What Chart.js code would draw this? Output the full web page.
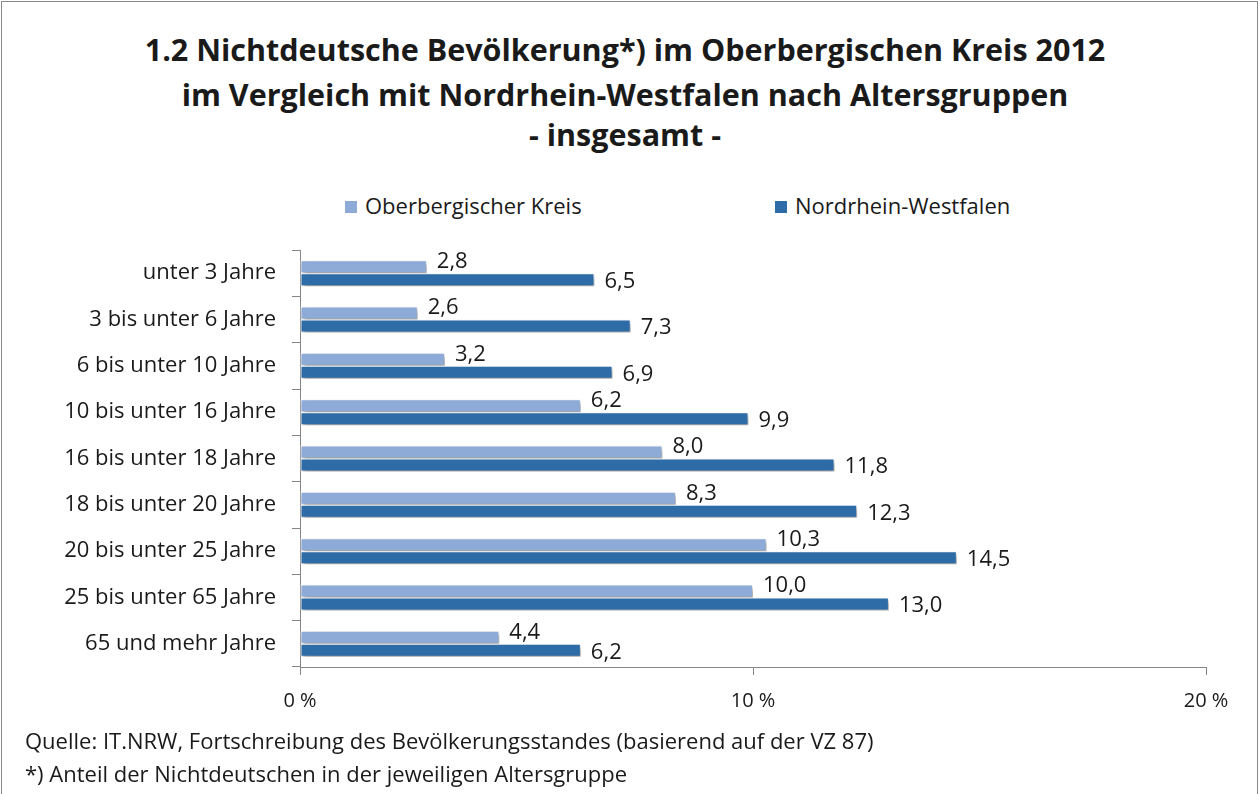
<!DOCTYPE html>
<html lang="de">
<head>
<meta charset="utf-8">
<script src="https://cdn.jsdelivr.net/npm/chart.js@4"></script>
<style>
  html, body { margin: 0; padding: 0; background: #fff; }
  body { width: 1260px; height: 794px; position: relative; overflow: hidden; font-family: "Open Sans", sans-serif; color: #1a1a1a; }
  #frame { position: absolute; left: 1px; top: 1px; width: 1255px; height: 820px; border: 1px solid #8a8a8a; }
  .title { position: absolute; left: 0; width: 1250px; text-align: center; font-weight: bold; font-size: 30.5px; line-height: 34px; }
  .leg { position: absolute; top: 191px; font-size: 22px; line-height: 28px; white-space: nowrap; }
  .leg i { display: inline-block; width: 12px; height: 12px; margin-right: 8px; vertical-align: 1px; }
  .note { position: absolute; left: 25px; font-size: 22px; line-height: 28px; white-space: nowrap; }
  canvas { position: absolute; left: 0; top: 0; }
</style>
</head>
<body>
<div id="frame"></div>
<div class="title" style="top:32px">1.2 Nichtdeutsche Bevölkerung*) im Oberbergischen Kreis 2012</div>
<div class="title" style="top:77px">im Vergleich mit Nordrhein-Westfalen nach Altersgruppen</div>
<div class="title" style="top:117px">- insgesamt -</div>

<div class="leg" style="left:345px"><i style="background:#8eaad6"></i>Oberbergischer Kreis</div>
<div class="leg" style="left:775px"><i style="background:#2e6ca8"></i>Nordrhein-Westfalen</div>

<canvas id="chart" width="1260" height="794"></canvas>

<div class="note" style="top:726px">Quelle: IT.NRW, Fortschreibung des Bevölkerungsstandes (basierend auf der VZ 87)</div>
<div class="note" style="top:759px">*) Anteil der Nichtdeutschen in der jeweiligen Altersgruppe</div>

<script>
// Altersgruppen
const categories = [
    'unter 3 Jahre',
    '3 bis unter 6 Jahre',
    '6 bis unter 10 Jahre',
    '10 bis unter 16 Jahre',
    '16 bis unter 18 Jahre',
    '18 bis unter 20 Jahre',
    '20 bis unter 25 Jahre',
    '25 bis unter 65 Jahre',
    '65 und mehr Jahre'
];

// Anteil Nichtdeutsche in %
const oberbergValues = [2.8, 2.6, 3.2, 6.2, 8.0, 8.3, 10.3, 10.0, 4.4];
const nrwValues = [6.5, 7.3, 6.9, 9.9, 11.8, 12.3, 14.5, 13.0, 6.2];

const xTicks = [0, 10, 20];

const fmt = v => v.toFixed(1).replace('.', ',');

// Schatten unter den Balken (wie Excel)
const barShadow = {
    id: 'barShadow',
    beforeDatasetsDraw(chart) {
        const ctx = chart.ctx;
        ctx.save();
        ctx.shadowColor = 'rgba(0,0,0,0.4)';
        ctx.shadowOffsetX = 2;
        ctx.shadowOffsetY = 3;
        ctx.shadowBlur = 4;
    },
    afterDatasetsDraw(chart) {
        chart.ctx.restore();
    }
};

// Werte-Beschriftung rechts neben den Balken
const valueLabels = {
    id: 'valueLabels',
    afterDatasetsDraw(chart) {
        const ctx = chart.ctx;
        ctx.save();
        ctx.font = '22px "Open Sans"';
        ctx.fillStyle = '#1a1a1a';
        ctx.textAlign = 'left';
        ctx.textBaseline = 'middle';
        chart.data.datasets.forEach((ds, i) => {
            const meta = chart.getDatasetMeta(i);
            const dy = i === 0 ? -5 : 2;
            meta.data.forEach((bar, j) => {
                ctx.fillText(fmt(ds.data[j]), bar.x + 10, bar.y + dy);
            });
        });
        ctx.restore();
    }
};

new Chart(document.getElementById('chart'), {
    type: 'bar',
    data: {
        labels: categories,
        datasets: [
            {
                label: 'Oberbergischer Kreis',
                data: oberbergValues,
                backgroundColor: '#8eaad6',
                borderColor: '#ffffff',
                borderWidth: 1,
                borderSkipped: false
            },
            {
                label: 'Nordrhein-Westfalen',
                data: nrwValues,
                backgroundColor: '#2e6ca8',
                borderColor: '#ffffff',
                borderWidth: 1,
                borderSkipped: false
            }
        ]
    },
    options: {
        indexAxis: 'y',
        responsive: false,
        animation: false,
        layout: { padding: { top: 250, left: 0, right: 54, bottom: 77 } },
        datasets: { bar: { categoryPercentage: 0.56, barPercentage: 1 } },
        plugins: {
            legend: { display: false },
            title: { display: false },
            tooltip: { enabled: false }
        },
        scales: {
            x: {
                min: 0,
                max: 20,
                afterFit: s => { s.height = 50; },
                afterBuildTicks: s => { s.ticks = xTicks.map(v => ({ value: v })); },
                border: { display: true, color: '#868686', width: 1 },
                grid: { drawOnChartArea: false, drawTicks: true, tickLength: 8, color: '#868686' },
                ticks: {
                    padding: 14,
                    color: '#1a1a1a',
                    font: { family: 'Open Sans', size: 20 },
                    callback: v => v + ' %'
                }
            },
            y: {
                afterFit: s => { s.width = 300; },
                border: { display: true, color: '#868686', width: 1 },
                grid: { drawOnChartArea: false, drawTicks: true, tickLength: 8, color: '#868686', offset: true },
                ticks: {
                    padding: 16,
                    color: '#1a1a1a',
                    font: { family: 'Open Sans', size: 22 }
                }
            }
        }
    },
    plugins: [barShadow, valueLabels]
});
</script>
</body>
</html>
